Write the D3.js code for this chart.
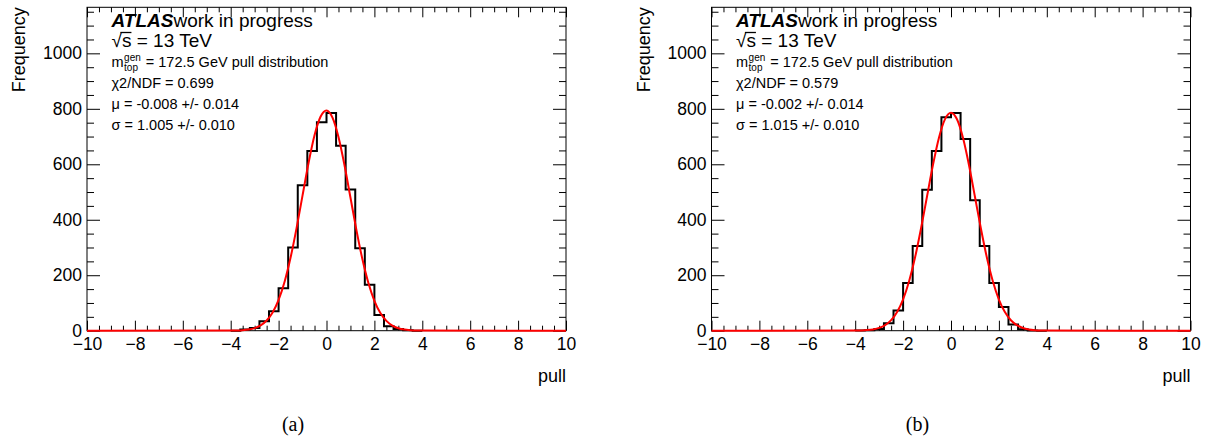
<!DOCTYPE html>
<html><head><meta charset="utf-8">
<script src="https://cdn.jsdelivr.net/npm/d3@7"></script>
<style>
body{margin:0;background:#fff}
svg{display:block}
text{font-family:"Liberation Sans",Arial,Helvetica,sans-serif;fill:#000}
</style>
</head><body>
<svg id="c" width="1205" height="441"></svg>
<script>
// ---------- data ----------
const binWidth = 0.4;
const binLeft = [-4.0,-3.6,-3.2,-2.8,-2.4,-2.0,-1.6,-1.2,-0.8,-0.4,0.0,0.4,0.8,1.2,1.6,2.0,2.4,2.8,3.2,3.6];
const countsA = [0,4,10,34,70,153,300,524,648,752,785,667,509,297,166,57,16,6,2,0];
const countsB = [1,2,6,27,73,172,305,508,648,770,785,691,470,305,172,85,22,5,1,0];

// Gaussian fit curves
const fitX = [-10,-4,-3.75,-3.5,-3.25,-3,-2.75,-2.5,-2.25,-2,-1.75,-1.5,-1.25,-1,-0.75,-0.5,-0.25,0,0.25,0.5,0.75,1,1.25,1.5,1.75,2,2.25,2.5,2.75,3,3.25,3.5,3.75,4,10];
const fitA = [0,0.3,0.8,1.9,4.4,9.4,19.2,36.7,65.9,111.4,176.7,263.8,370,487.8,604.5,704.4,771.3,794,768.3,698.7,597.5,480.1,362.7,257.6,171.9,107.9,63.6,35.3,18.4,9.0,4.1,1.8,0.7,0.3,0];
const fitB = [0,0.3,0.9,2.1,4.7,10.0,20.1,38.1,67.6,113.3,178.4,264.5,369.2,484.8,599.2,697.0,763.0,786.1,762.3,695.6,597.5,482.9,367.4,263.0,177.2,112.4,67.0,37.7,19.9,9.9,4.6,2.0,0.85,0.3,0];

const xTicks = [-10,-8,-6,-4,-2,0,2,4,6,8,10];
const yTicks = [0,200,400,600,800,1000];
const xDomain = [-10,10];
const yDomain = [0,1166];

const chi2Text = ["χ2/NDF = 0.699","χ2/NDF = 0.579"];
const muText = ["μ = -0.008 +/- 0.014","μ = -0.002 +/- 0.014"];
const sigmaText = ["σ = 1.005 +/- 0.010","σ = 1.015 +/- 0.010"];
const subLabels = ["(a)","(b)"];

// ---------- drawing ----------
const svg = d3.select("#c");
const offsets = [0, 624.5];
const countsAll = [countsA, countsB];
const fitsAll = [fitA, fitB];

offsets.forEach((ox, p) => {
  const g = svg.append("g").attr("transform", `translate(${ox},0)`);
  const L = 87, R = 566, T = 7.3, B = 330.7;
  const x = d3.scaleLinear().domain(xDomain).range([L, R]);
  const y = d3.scaleLinear().domain(yDomain).range([B, T]);

  const minorX = d3.range(-10, 10.001, 0.5).filter(v => Math.abs(v/2 - Math.round(v/2)) > 1e-6);
  const minorY = d3.range(0, 1166, 50).filter(v => v % 200 !== 0);

  // bottom axis
  g.append("g").attr("transform", `translate(0,${B})`)
    .call(d3.axisBottom(x).tickValues(xTicks).tickSize(-10).tickSizeOuter(0)
      .tickFormat(d => d < 0 ? "\u2212" + Math.abs(d) : d).tickPadding(6.5))
    .call(s => s.select(".domain").remove())
    .call(s => s.selectAll("text").attr("font-size", 17.5).attr("font-family", null));
  g.append("g").attr("transform", `translate(0,${B})`)
    .call(d3.axisBottom(x).tickValues(minorX).tickSize(-5).tickFormat(""))
    .call(s => s.select(".domain").remove());
  // top axis
  g.append("g").attr("transform", `translate(0,${T})`)
    .call(d3.axisTop(x).tickValues(xTicks).tickSize(-10).tickFormat(""))
    .call(s => s.select(".domain").remove());
  g.append("g").attr("transform", `translate(0,${T})`)
    .call(d3.axisTop(x).tickValues(minorX).tickSize(-5).tickFormat(""))
    .call(s => s.select(".domain").remove());
  // left axis
  g.append("g").attr("transform", `translate(${L},0)`)
    .call(d3.axisLeft(y).tickValues(yTicks).tickSize(-13).tickPadding(5).tickFormat(d3.format("d")))
    .call(s => s.select(".domain").remove())
    .call(s => s.selectAll("text").attr("font-size", 17.5).attr("font-family", null));
  g.append("g").attr("transform", `translate(${L},0)`)
    .call(d3.axisLeft(y).tickValues(minorY).tickSize(-7).tickFormat(""))
    .call(s => s.select(".domain").remove());
  // right axis
  g.append("g").attr("transform", `translate(${R},0)`)
    .call(d3.axisRight(y).tickValues(yTicks).tickSize(-13).tickFormat(""))
    .call(s => s.select(".domain").remove());
  g.append("g").attr("transform", `translate(${R},0)`)
    .call(d3.axisRight(y).tickValues(minorY).tickSize(-7).tickFormat(""))
    .call(s => s.select(".domain").remove());
  g.selectAll(".tick line").attr("stroke", "#000").attr("stroke-width", 1);

  // frame
  g.append("rect").attr("x", L).attr("y", T).attr("width", R - L).attr("height", B - T)
    .attr("fill", "none").attr("stroke", "#000").attr("stroke-width", 1);

  // histogram outline
  const counts = countsAll[p];
  const path = d3.path();
  path.moveTo(x(binLeft[0]), y(0));
  binLeft.forEach((b, i) => {
    path.lineTo(x(b), y(counts[i]));
    path.lineTo(x(b + binWidth), y(counts[i]));
  });
  path.lineTo(x(binLeft[binLeft.length - 1] + binWidth), y(0));
  g.append("path").attr("d", path.toString()).attr("fill", "none")
    .attr("stroke", "#000").attr("stroke-width", 2);

  // fit curve
  const fit = fitsAll[p];
  const line = d3.line().x((d, i) => x(fitX[i])).y(d => y(d)).curve(d3.curveMonotoneX);
  g.append("path").attr("d", line(fit)).attr("fill", "none")
    .attr("stroke", "#ff0000").attr("stroke-width", 2);

  // axis titles
  g.append("text").attr("transform", `translate(25,${T}) rotate(-90)`)
    .attr("text-anchor", "end").attr("font-size", 18).text("Frequency");
  g.append("text").attr("x", R).attr("y", 382).attr("text-anchor", "end")
    .attr("font-size", 18).text("pull");

  // labels
  const tx = 111.5;
  const t1 = g.append("text").attr("x", tx).attr("y", 26.5).attr("font-size", 19);
  t1.append("tspan").attr("font-weight", "bold").attr("font-style", "italic").text("ATLAS");
  t1.append("tspan").text("work in progress");
  const t2 = g.append("text").attr("x", tx).attr("y", 46.5).attr("font-size", 19).text("\u221As = 13 TeV");
  const e0 = t2.node().getExtentOfChar(0), e1 = t2.node().getExtentOfChar(1);
  g.append("line").attr("x1", e0.x + e0.width - 1.5).attr("x2", e1.x + e1.width)
    .attr("y1", 32.5).attr("y2", 32.5).attr("stroke", "#000").attr("stroke-width", 1.3);

  const mY = 67;
  const mT = g.append("text").attr("x", tx).attr("y", mY).attr("font-size", 14.5).text("m");
  const mw = mT.node().getComputedTextLength();
  const gen = g.append("text").attr("x", tx + mw + 0.5).attr("y", mY - 6.5).attr("font-size", 10).text("gen");
  const top = g.append("text").attr("x", tx + mw + 0.5).attr("y", mY + 4).attr("font-size", 10).text("top");
  const sw = Math.max(gen.node().getComputedTextLength(), top.node().getComputedTextLength());
  g.append("text").attr("x", tx + mw + sw + 1.5).attr("y", mY).attr("font-size", 14.5)
    .style("white-space", "pre").text(" = 172.5 GeV pull distribution");

  g.append("text").attr("x", tx).attr("y", 88.3).attr("font-size", 14.5).text(chi2Text[p]);
  g.append("text").attr("x", tx).attr("y", 109).attr("font-size", 14.5).text(muText[p]);
  g.append("text").attr("x", tx).attr("y", 129.5).attr("font-size", 14.5).text(sigmaText[p]);

  g.append("text").attr("x", 293).attr("y", 430.5).attr("text-anchor", "middle")
    .attr("font-size", 20).style("font-family", "'Liberation Serif','DejaVu Serif',serif")
    .text(subLabels[p]);
});
</script>
</body></html>
